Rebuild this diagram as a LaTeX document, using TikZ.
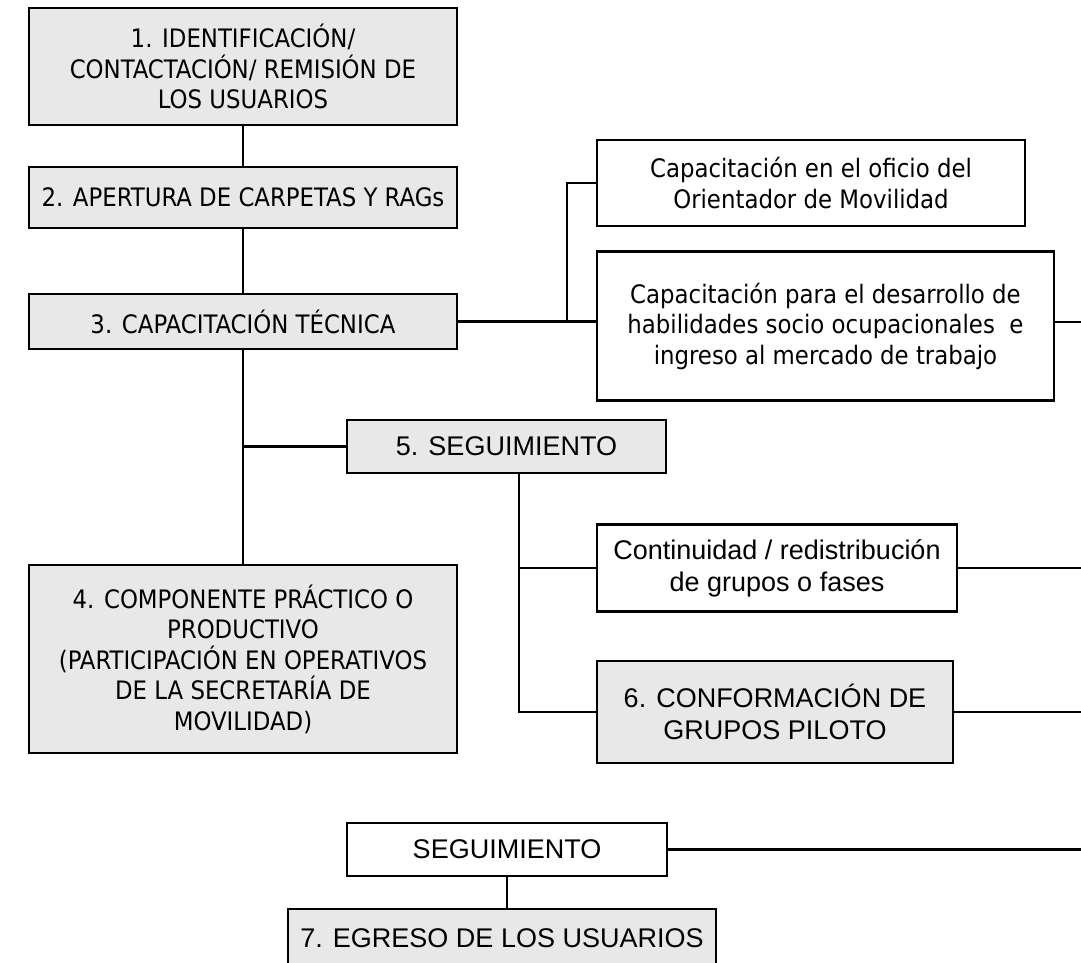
\documentclass[tikz,border=0pt]{standalone}
\usepackage{fontspec}
\newfontfamily\tah{DejaVu Sans Condensed}
\newfontfamily\ari{Liberation Sans}
\definecolor{boxgrey}{HTML}{E8E8E8}
\tikzset{
  box/.style={draw=black, line width=2.1pt, rectangle, inner sep=0pt, align=center, text=black},
  gbox/.style={box, fill=boxgrey},
  wbox/.style={box, fill=white},
  tfont/.style={font=\tah\fontsize{25.4}{30.5}\selectfont},
  afont/.style={font=\ari\fontsize{27}{32}\selectfont},
  conn/.style={line width=2.1pt, draw=black}
}
\begin{document}
\begin{tikzpicture}[x=1pt,y=-1pt]
\clip (0,0) rectangle (1081,962);
\fill[white] (0,0) rectangle (1081,962);
% left column
\node[gbox,tfont,minimum width=428pt,minimum height=117pt] (b1) at (243,66.5) {1. IDENTIFICACIÓN/\\CONTACTACIÓN/ REMISIÓN DE\\LOS USUARIOS};
\node[gbox,tfont,minimum width=428pt,minimum height=61pt] (b2) at (243,197.5) {2. APERTURA DE CARPETAS Y RAGs};
\node[gbox,tfont,minimum width=428pt,minimum height=55pt] (b3) at (243,321.5) {3. CAPACITACIÓN TÉCNICA};
\node[gbox,tfont,minimum width=428pt,minimum height=188pt] (b4) at (243,659) {4. COMPONENTE PRÁCTICO O\\PRODUCTIVO\\(PARTICIPACIÓN EN OPERATIVOS\\DE LA SECRETARÍA DE\\MOVILIDAD)};
% right upper
\node[wbox,tfont,minimum width=428pt,minimum height=86pt] (ofi) at (811,183) {Capacitación en el oficio del\\Orientador de Movilidad};
\node[wbox,tfont,minimum width=457pt,minimum height=149pt] (hab) at (825.5,326) {Capacitación para el desarrollo de\\habilidades socio ocupacionales\ \ e\\ingreso al mercado de trabajo};
% middle
\node[gbox,afont,minimum width=319pt,minimum height=53pt] (b5) at (506.5,446.5) {5. SEGUIMIENTO};
\node[wbox,afont,minimum width=360pt,minimum height=87pt] (cont) at (777,568) {Continuidad / redistribución\\de grupos o fases};
\node[gbox,afont,minimum width=356pt,minimum height=102pt] (b6) at (775,712) {6. CONFORMACIÓN DE\\GRUPOS PILOTO};
% bottom
\node[wbox,afont,minimum width=320pt,minimum height=53pt] (seg) at (507,849.5) {SEGUIMIENTO};
\node[gbox,afont,minimum width=428pt,minimum height=58pt] (b7) at (502,938) {7. EGRESO DE LOS USUARIOS};
% free ends / junctions
\coordinate (j2) at (567,321.5);
\coordinate (jb) at (519,473);
\coordinate (rh) at (1081,322);
\coordinate (rc) at (1081,568);
\coordinate (r6) at (1081,712);
\coordinate (rs) at (1081,849.5);
% connectors
\draw[conn] (b1.south) -- (b2.north);
\draw[conn] (b2.south) -- (b3.north);
\draw[conn] (b3.south) -- (b4.north);
\draw[conn] (b3.south |- b5.west) -- (b5.west);
\draw[conn] (b3.east) -- (b3.east -| hab.west);
\draw[conn] (j2) |- (ofi.west);
\draw[conn] (hab.east |- rh) -- (rh);
\draw[conn] (jb) |- (b6.west);
\draw[conn] (jb |- cont.west) -- (cont.west);
\draw[conn] (cont.east) -- (rc);
\draw[conn] (b6.east) -- (r6);
\draw[conn] (seg.east) -- (rs);
\draw[conn] (seg.south) -- (seg.south |- b7.north);
\end{tikzpicture}
\end{document}
